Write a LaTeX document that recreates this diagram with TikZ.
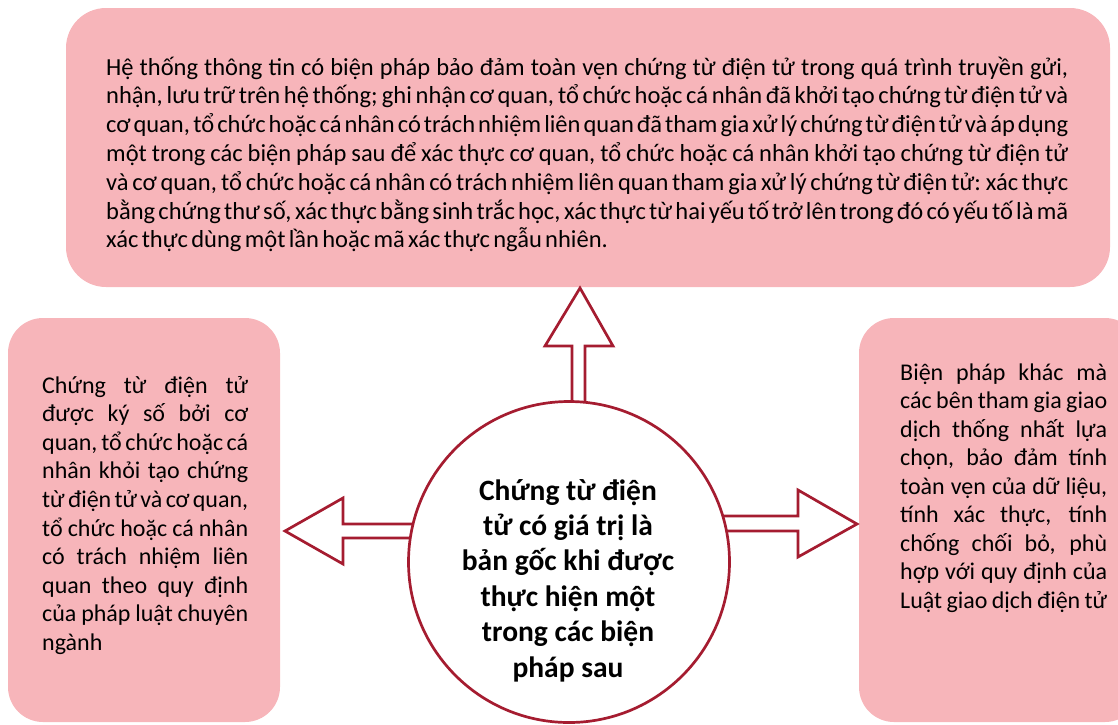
\documentclass[tikz,border=0pt]{standalone}
\usepackage{fontspec}
\setmainfont{Carlito}
\definecolor{boxpink}{HTML}{F7B5BA}
\definecolor{arrowred}{HTML}{A51C30}
\newlength\jw
\newcommand\jline[1]{\hbox to \jw{\spaceskip=\fontdimen2\font plus 1fil minus 0.75\fontdimen2\font\relax #1}\par}
\newcommand\lline[1]{#1\par}
\tikzset{
  pinkbox/.style={rectangle, fill=boxpink, draw=none, inner sep=0pt},
  blockarrow/.style={draw=arrowred, fill=white, line width=2.7pt, line join=miter},
  bodytext/.style={anchor=base west, inner sep=0pt, align=left},
}
\begin{document}
\begin{tikzpicture}[x=1pt,y=-1pt]
\useasboundingbox (0,0) rectangle (1118,724);
\begin{scope}
\clip (0,0) rectangle (1118,724);
% boxes
\node[pinkbox, rounded corners=40pt, minimum width=1044pt, minimum height=279pt] (topbox) at (588,147.5) {};
\node[pinkbox, rounded corners=35pt, minimum width=272pt, minimum height=404pt] (leftbox) at (144,520) {};
\node[pinkbox, rounded corners=35pt, minimum width=281pt, minimum height=404pt] (rightbox) at (999.5,520) {};
% block arrows
\draw[blockarrow] (572,450) -- (572,346) -- (545,346) -- (580,288) -- (613,346) -- (585,346) -- (585,450) -- cycle;
\draw[blockarrow] (450,524) -- (343,524) -- (343,498) -- (285,531) -- (343,564) -- (343,538) -- (450,538) -- cycle;
\draw[blockarrow] (690,516) -- (798,516) -- (798,490) -- (857,524) -- (798,557) -- (798,531) -- (690,531) -- cycle;
% hub
\node[circle, draw=arrowred, line width=2.7pt, fill=white, minimum size=321pt, inner sep=0pt] (hub) at (569,562) {};
\end{scope}
% texts
\node[bodytext, text width=962pt] (toptext) at (106,75) {\fontsize{24.5}{28.8}\selectfont\setlength\jw{962pt}%
\jline{Hệ thống thông tin có biện pháp bảo đảm toàn vẹn chứng từ điện tử trong quá trình truyền gửi,}
\jline{nhận, lưu trữ trên hệ thống; ghi nhận cơ quan, tổ chức hoặc cá nhân đã khởi tạo chứng từ điện tử và}
\jline{cơ quan, tổ chức hoặc cá nhân có trách nhiệm liên quan đã tham gia xử lý chứng từ điện tử và áp dụng}
\jline{một trong các biện pháp sau để xác thực cơ quan, tổ chức hoặc cá nhân khởi tạo chứng từ điện tử}
\jline{và cơ quan, tổ chức hoặc cá nhân có trách nhiệm liên quan tham gia xử lý chứng từ điện tử: xác thực}
\jline{bằng chứng thư số, xác thực bằng sinh trắc học, xác thực từ hai yếu tố trở lên trong đó có yếu tố là mã}
\lline{xác thực dùng một lần hoặc mã xác thực ngẫu nhiên.}};
\node[bodytext, text width=206pt] (lefttext) at (42,393) {\fontsize{24}{28.6}\selectfont\setlength\jw{206pt}%
\jline{Chứng từ điện tử}
\jline{được ký số bởi cơ}
\jline{quan, tổ chức hoặc cá}
\jline{nhân khỏi tạo chứng}
\jline{từ điện tử và cơ quan,}
\jline{tổ chức hoặc cá nhân}
\jline{có trách nhiệm liên}
\jline{quan theo quy định}
\jline{của pháp luật chuyên}
\lline{ngành}};
\node[bodytext, text width=207pt] (righttext) at (900,380) {\fontsize{24}{28.5}\selectfont\setlength\jw{207pt}%
\jline{Biện pháp khác mà}
\jline{các bên tham gia giao}
\jline{dịch thống nhất lựa}
\jline{chọn, bảo đảm tính}
\jline{toàn vẹn của dữ liệu,}
\jline{tính xác thực, tính}
\jline{chống chối bỏ, phù}
\jline{hợp với quy định của}
\jline{Luật giao dịch điện tử}};
\node[anchor=base, inner sep=0pt, align=center, font=\fontsize{29.5}{35.4}\selectfont\bfseries] (hubtext) at (568,677) {Chứng từ điện\\tử có giá trị là\\bản gốc khi được\\thực hiện một\\trong các biện\\pháp sau};
\end{tikzpicture}
\end{document}
